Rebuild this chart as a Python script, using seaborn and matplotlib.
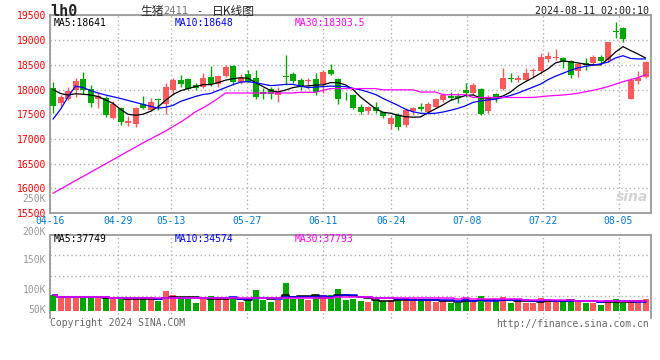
import numpy as np
import pandas as pd
import matplotlib
matplotlib.use("Agg")
import matplotlib.pyplot as plt
import seaborn as sns

# daily candles, 2024-04-16 .. 2024-08-09 (80 trading days)
opens = [18025, 17722, 17809, 17992, 18208, 18005, 17809, 17836, 17432, 17620,
         17317, 17297, 17701, 17593, 17795, 17701, 17992, 18188, 18208, 18093,
         18059, 18248, 18106, 18282, 18478, 18160, 18309, 18228, 17945, 18005,
         17890, 18282, 18309, 18194, 18170, 18208, 18106, 18390, 18215, 17895,
         17890, 17654, 17567, 17654, 17540, 17297, 17485, 17283, 17567, 17641,
         17540, 17648, 17782, 17870, 17863, 17992, 17924, 18005, 17567, 17904,
         18012, 18242, 18188, 18188, 18376, 18376, 18620, 18640, 18646, 18586,
         18383, 18532, 18532, 18653, 18599, 19193, 19254, 17809, 18174, 18248]
highs = [18160, 17890, 18059, 18228, 18349, 18093, 17945, 17877, 17769, 17654,
         17465, 17654, 17877, 17836, 17823, 18127, 18242, 18295, 18242, 18127,
         18329, 18478, 18295, 18498, 18498, 18309, 18397, 18397, 18039, 18046,
         18059, 18700, 18349, 18242, 18228, 18329, 18397, 18511, 18242, 17945,
         17904, 17701, 17674, 17755, 17553, 17485, 17519, 17620, 17654, 17722,
         17755, 17836, 17924, 17958, 17924, 18127, 18127, 18025, 17890, 17924,
         18444, 18329, 18295, 18430, 18430, 18734, 18768, 18815, 18660, 18599,
         18532, 18633, 18700, 18700, 18971, 19362, 19274, 18228, 18376, 18579]
lows = [17520, 17674, 17789, 17857, 17904, 17654, 17620, 17452, 17405, 17283,
        17270, 17249, 17607, 17567, 17587, 17499, 17890, 18059, 17992, 17992,
        18025, 18080, 18059, 18262, 18093, 18106, 18147, 17809, 17809, 17803,
        17755, 18093, 18127, 17992, 18012, 17890, 17924, 18295, 17701, 17789,
        17607, 17499, 17499, 17519, 17418, 17202, 17182, 17249, 17485, 17567,
        17506, 17620, 17755, 17789, 17735, 17857, 17890, 17485, 17519, 17755,
        17992, 18160, 18147, 18174, 18228, 18309, 18565, 18599, 18444, 18228,
        18262, 18397, 18511, 18532, 18565, 19052, 18971, 17809, 18106, 18242]
closes = [17675, 17843, 17971, 18174, 17992, 17722, 17877, 17485, 17701, 17337,
          17364, 17620, 17634, 17742, 17785, 18059, 18194, 18120, 18012, 18025,
          18242, 18106, 18275, 18464, 18160, 18228, 18160, 17843, 17904, 17904,
          17958, 18255, 18174, 18059, 18178, 17945, 18349, 18309, 17809, 17885,
          17634, 17553, 17654, 17567, 17465, 17432, 17243, 17587, 17620, 17607,
          17701, 17803, 17890, 17836, 17836, 17924, 18093, 17499, 17823, 17823,
          18242, 18208, 18242, 18329, 18397, 18667, 18687, 18667, 18565, 18295,
          18511, 18498, 18667, 18586, 18957, 19166, 19025, 18188, 18242, 18552]
# volume in thousands of lots
volume_k = [52, 44, 48, 44, 44, 50.5, 44, 45.7, 41.6, 41.6,
            41.6, 41.6, 45.7, 41.6, 38.3, 63, 53, 44, 42.4, 33.3,
            45.7, 50.5, 41.6, 41.6, 45.7, 35, 40, 64.6, 40, 35.8,
            40, 82.5, 42.4, 42.4, 40, 52, 52, 52, 67, 40,
            42, 38.3, 35, 39.9, 37.4, 39.9, 41.5, 44, 39.9, 38.3,
            39.9, 35.8, 38.3, 33.3, 33.3, 44, 35.8, 49.8, 35, 37.4,
            46.5, 33.3, 38.3, 33.3, 31.7, 44, 38.3, 35.8, 39.9, 42.4,
            35, 33.3, 33.3, 27.6, 39.9, 42.4, 33.3, 35, 37.4, 41.5]
# moving averages as drawn (they use history before the window)
ma5 = [18000, 17920, 17890, 17915, 17905, 17890, 17860, 17790, 17720, 17600,
       17500, 17480, 17500, 17560, 17650, 17780, 17900, 17975, 18020, 18060,
       18100, 18100, 18140, 18190, 18220, 18240, 18230, 18140, 18060, 17980,
       17950, 17990, 18040, 18065, 18075, 18090, 18095, 18140, 18140, 18095,
       18000, 17850, 17730, 17610, 17540, 17520, 17480, 17450, 17440, 17445,
       17530, 17610, 17690, 17780, 17830, 17880, 17890, 17830, 17830, 17830,
       17870, 17950, 18070, 18160, 18240, 18330, 18420, 18540, 18580, 18560,
       18540, 18510, 18500, 18500, 18620, 18760, 18870, 18790, 18720, 18640]
ma10 = [17400, 17600, 17850, 18070, 18040, 17980, 17930, 17890, 17855, 17820,
        17780, 17740, 17700, 17660, 17625, 17640, 17680, 17760, 17810, 17860,
        17900, 17920, 17980, 18040, 18100, 18150, 18160, 18140, 18110, 18080,
        18090, 18105, 18105, 18070, 18040, 18050, 18060, 18070, 18065, 18060,
        18025, 17995, 17950, 17900, 17820, 17750, 17680, 17600, 17550, 17520,
        17515, 17520, 17545, 17580, 17620, 17670, 17740, 17770, 17790, 17805,
        17840, 17880, 17930, 17990, 18050, 18110, 18200, 18270, 18330, 18390,
        18440, 18470, 18495, 18520, 18555, 18640, 18685, 18630, 18620, 18620]
ma30 = [15900, 15985, 16070, 16155, 16240, 16325, 16410, 16495, 16580, 16665,
        16750, 16835, 16920, 17000, 17080, 17160, 17250, 17340, 17440, 17550,
        17630, 17720, 17820, 17930, 17930, 17930, 17930, 17930, 17930, 17930,
        17930, 17930, 17930, 17945, 17945, 17945, 17985, 18020, 18020, 18020,
        18020, 18020, 18020, 18020, 17995, 17995, 17995, 17995, 17995, 17950,
        17950, 17950, 17895, 17895, 17895, 17895, 17840, 17840, 17840, 17840,
        17840, 17840, 17840, 17840, 17840, 17855, 17870, 17880, 17890, 17905,
        17925, 17955, 17985, 18020, 18060, 18110, 18160, 18200, 18240, 18300]

date_labels = ["04-16", "04-29", "05-13", "05-27", "06-11", "06-24", "07-08", "07-22", "08-05"]
date_label_idx = [0, 9, 16, 26, 36, 45, 55, 65, 75]
price_ticks = [15500, 16000, 16500, 17000, 17500, 18000, 18500, 19000, 19500]
vol_grid_k = [50, 100, 150]

RED = "#fa5a5a"
GREEN = "#00a600"
GRID = "#b0b0b0"
FRAME = "#9a9a9a"
W, H = 660, 360


def fx(x):
    return x / W


def fy(y):
    return 1 - y / H


df = pd.DataFrame({"idx": np.arange(len(closes)), "open": opens, "high": highs,
                   "low": lows, "close": closes, "vol": np.array(volume_k) * 1000})
df["dir"] = np.where(df["close"] >= df["open"], "up", "down")
colors = np.where(df["dir"] == "up", RED, GREEN)

ma_df = pd.DataFrame({"idx": df["idx"], "MA5": ma5, "MA10": ma10, "MA30": ma30})
ma_long = ma_df.melt(id_vars="idx", var_name="line", value_name="value")
vma = pd.DataFrame({"idx": df["idx"],
                    "MA5": df["vol"].rolling(5, min_periods=1).mean(),
                    "MA10": df["vol"].rolling(10, min_periods=1).mean(),
                    "MA30": df["vol"].rolling(30, min_periods=1).mean()})
vma_long = vma.melt(id_vars="idx", var_name="line", value_name="value")
ma_colors = {"MA5": "black", "MA10": "#0000ff", "MA30": "#ff00ff"}

sns.set_style("white")
plt.rcParams["font.family"] = ["DejaVu Sans Mono", "Noto Sans CJK SC"]

fig = plt.figure(figsize=(6.6, 3.6), dpi=100)
ax = fig.add_axes([fx(50), fy(213), fx(601), 198 / H])
axv = fig.add_axes([fx(50), fy(311), fx(601), 76 / H])

# gridlines are spaced slightly wider than candles in the original
grid_x = [d * 7.58 / 7.5 - 0.4 for d in date_label_idx]
x_lim = (-0.4, 79.73)

# --- price panel ---
body_low = np.minimum(df["open"], df["close"])
body_h = np.maximum((df["close"] - df["open"]).abs(), 14)
ax.vlines(df["idx"], df["low"], df["high"], colors=colors, lw=1, zorder=3)
ax.bar(df["idx"], body_h, bottom=body_low, width=0.8, color=colors, linewidth=0, zorder=4)
sns.lineplot(data=ma_long, x="idx", y="value", hue="line", palette=ma_colors,
             estimator=None, linewidth=0.9, legend=False, ax=ax, zorder=5)

ax.set_xlim(*x_lim)
ax.set_ylim(15500, 19510)
ax.set_yticks(price_ticks)
ax.set_yticklabels([str(p) for p in price_ticks], color="#ff0000", fontsize=7)
ax.set_xticks(grid_x)
ax.set_xticklabels(date_labels, color="#0078d7", fontsize=7)
ax.tick_params(length=0, pad=3)
ax.tick_params(axis="x", pad=2.5)
ax.grid(True, linestyle=(0, (1, 2)), color=GRID, lw=1)
ax.set_xlabel("")
ax.set_ylabel("")
for s in ax.spines.values():
    s.set_color(FRAME)
    s.set_linewidth(1.3)

ax.text(0.995, 0.08, "sina", transform=ax.transAxes, ha="right", va="center",
        fontsize=10, style="italic", weight="bold", color="#d4d4d4",
        family="DejaVu Sans", zorder=1)

# --- volume panel ---
sns.barplot(data=df, x="idx", y="vol", hue="dir", palette={"up": RED, "down": GREEN},
            native_scale=True, dodge=False, width=0.8, saturation=1, linewidth=0,
            legend=False, ax=axv, zorder=3)
sns.lineplot(data=vma_long, x="idx", y="value", hue="line", palette=ma_colors,
             estimator=None, linewidth=1.1, legend=False, drawstyle="steps-mid",
             ax=axv, zorder=5)
axv.set_xlim(*x_lim)
axv.set_ylim(12800, 200000)
axv.set_yticks([v * 1000 for v in vol_grid_k])
axv.set_yticklabels([])
axv.set_xticks([])
axv.grid(True, axis="y", linestyle=(0, (1, 2)), color=GRID, lw=1)
for gx in grid_x:
    axv.axvline(gx, ymin=-0.092, ymax=1, clip_on=False, linestyle=(0, (1, 2)),
                color=GRID, lw=1, zorder=1)
axv.tick_params(length=0)
axv.set_xlabel("")
axv.set_ylabel("")
for name, s in axv.spines.items():
    s.set_color(FRAME)
    s.set_linewidth(1.3)
axv.spines["bottom"].set_visible(False)
axv.spines["left"].set_bounds(-4500, 200000)
axv.spines["right"].set_bounds(-4500, 200000)

# --- header and labels ---
fig.text(fx(50), fy(11.5), "lh0", fontsize=11, weight="bold", va="center")
fig.text(fx(140), fy(11.5), "生猪", family=["Noto Sans CJK SC"], fontsize=8.5, va="center")
fig.text(fx(163), fy(11.5), "2411", fontsize=7.5, color="#777777", va="center")
fig.text(fx(196), fy(11.5), "-", fontsize=7.5, va="center")
fig.text(fx(212), fy(11.5), "日K线图", family=["Noto Sans CJK SC"], fontsize=8.5, va="center")
fig.text(fx(649), fy(11.5), "2024-08-11 02:00:10", fontsize=7.2, ha="right", va="center")

fig.text(fx(54), fy(23.5), "MA5:18641", fontsize=7, color="black", va="center")
fig.text(fx(175), fy(23.5), "MA10:18648", fontsize=7, color="#0000ff", va="center")
fig.text(fx(295), fy(23.5), "MA30:18303.5", fontsize=7, color="#ff00ff", va="center")
fig.text(fx(54), fy(238.5), "MA5:37749", fontsize=7, color="black", va="center")
fig.text(fx(175), fy(238.5), "MA10:34574", fontsize=7, color="#0000ff", va="center")
fig.text(fx(295), fy(238.5), "MA30:37793", fontsize=7, color="#ff00ff", va="center")

for lab, yy in [("250K", 199), ("200K", 232), ("150K", 260), ("100K", 290), ("50K", 310)]:
    fig.text(fx(46), fy(yy), lab, fontsize=7, color="#999999", ha="right", va="center")

fig.text(fx(50), fy(323.5), "Copyright 2024 SINA.COM", fontsize=7, color="#666666", va="center")
fig.text(fx(649), fy(324), "http://finance.sina.com.cn", fontsize=7, color="#666666",
         ha="right", va="center")

fig.savefig("out.png", dpi=100)
